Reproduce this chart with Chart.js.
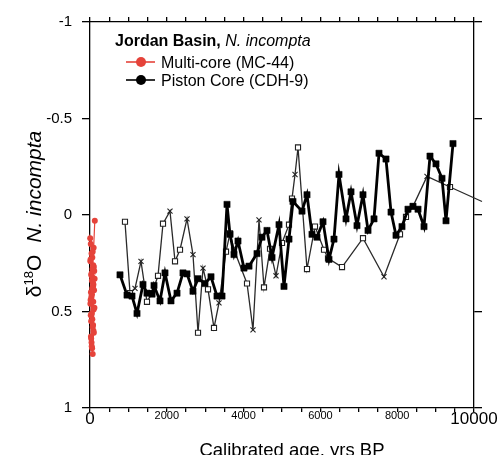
<!DOCTYPE html>
<html><head><meta charset="utf-8">
<script src="https://cdn.jsdelivr.net/npm/chart.js@4.4.1/dist/chart.umd.min.js"></script>
<style>html,body{margin:0;padding:0;background:#fff;}</style>
</head><body><canvas id="c" width="502" height="455"></canvas>
<script>
const xTickValues = [0, 2000, 4000, 6000, 8000, 10000];
const xTickLabels = ['0', '2000', '4000', '6000', '8000', '10000'];
const xMinorStep = 500;
const yTickValues = [-1, -0.5, 0, 0.5, 1];
const yTickLabels = ['-1', '-0.5', '0', '0.5', '1'];

// Multi-core (MC-44)
const multiAge = [125,95,5,60,20,85,40,110,10,70,30,100,50,15,80,45,120,25,65,90,35,55,105,10,75,40,95,60,20,85,50,30,115,70,15,45,90,60,25,80,40,100,55,30,70,45];
const multiD18O = [0.03,0.17,0.12,0.22,0.15,0.26,0.20,0.29,0.24,0.19,0.31,0.27,0.34,0.23,0.37,0.30,0.33,0.40,0.28,0.36,0.43,0.32,0.39,0.46,0.35,0.42,0.49,0.38,0.52,0.45,0.41,0.55,0.48,0.58,0.44,0.51,0.60,0.54,0.63,0.57,0.66,0.61,0.69,0.64,0.72,0.68];

// Piston core (CDH-9), main record
const pistonAge = [781,964,1094,1224,1380,1484,1615,1667,1823,1953,2109,2266,2422,2526,2682,2813,2995,3151,3307,3438,3568,3646,3750,3854,4010,4141,4349,4479,4609,4740,4922,5052,5182,5286,5521,5651,5781,5911,6068,6224,6354,6484,6667,6797,6953,7109,7240,7396,7526,7708,7839,7969,8125,8281,8411,8542,8698,8854,9010,9167,9271,9453];
const pistonD18O = [0.31,0.415,0.42,0.51,0.36,0.405,0.41,0.365,0.445,0.30,0.445,0.405,0.30,0.305,0.395,0.33,0.355,0.32,0.42,0.42,-0.055,0.10,0.205,0.135,0.275,0.265,0.20,0.115,0.08,0.22,0.05,0.37,0.125,-0.07,-0.02,-0.105,0.10,0.115,0.035,0.23,0.125,-0.21,0.02,-0.12,0.055,-0.105,0.08,0.02,-0.32,-0.29,-0.015,0.105,0.06,-0.03,-0.045,-0.03,0.06,-0.305,-0.265,-0.19,0.03,-0.37];

// Piston core, replicate record (open squares / crosses)
const repAge = [911,1042,1172,1328,1484,1615,1771,1901,2083,2214,2344,2526,2682,2813,2943,3073,3229,3359,3542,3646,3750,4089,4245,4401,4531,4688,4844,5000,5182,5260,5339,5417,5651,5859,6094,6198,6563,7109,7656,8073,8229,8411,8776,9375,10208];
const repD18O = [0.035,0.405,0.38,0.24,0.45,0.405,0.315,0.045,-0.02,0.24,0.18,0.02,0.205,0.61,0.275,0.385,0.585,0.455,0.19,0.095,0.18,0.355,0.595,0.025,0.375,0.175,0.315,0.145,0.05,-0.085,-0.21,-0.35,0.28,0.06,0.18,0.225,0.27,0.12,0.32,0.10,0.01,-0.045,-0.2,-0.145,-0.07];
const repMarker = ['s','s','x','x','s','s','s','s','x','s','s','x','x','s','x','s','s','x','s','s','s','s','x','x','s','s','x','s','s','s','x','s','s','s','s','s','s','s','x','s','s','s','x','s','n'];

const FONT = '"Liberation Sans", Arial, Helvetica, sans-serif';
const RED = '#e5433a';

const toPts = (xs, ys) => xs.map((x, i) => ({x, y: ys[i]}));
const xMin = xTickValues[0], xMax = xTickValues[xTickValues.length - 1];
const xAllTicks = [];
for (let v = xMin; v <= xMax; v += xMinorStep) xAllTicks.push({value: v});
const yAllTicks = yTickValues.map(v => ({value: v}));

const axisGrid = (len) => ({display: true, drawOnChartArea: false, drawTicks: true, tickLength: len, color: '#000', lineWidth: 1.3});
const axisBorder = {display: true, color: '#000', width: 1.3};

const textPlugin = {
  id: 'texts',
  afterDraw(chart) {
    const ctx = chart.ctx;
    ctx.save();
    ctx.fillStyle = '#000';
    ctx.textBaseline = 'alphabetic';
    ctx.font = 'bold 16px ' + FONT;
    ctx.fillText('Jordan Basin, ', 115, 46);
    const w = ctx.measureText('Jordan Basin, ').width;
    ctx.font = 'italic 16px ' + FONT;
    ctx.fillText('N. incompta', 115 + w, 46);
    const entries = [
      {label: 'Multi-core (MC-44)', color: RED, y: 62},
      {label: 'Piston Core (CDH-9)', color: '#000', y: 80}
    ];
    entries.forEach(e => {
      ctx.strokeStyle = e.color; ctx.fillStyle = e.color; ctx.lineWidth = 1.6;
      ctx.beginPath(); ctx.moveTo(126, e.y); ctx.lineTo(155, e.y); ctx.stroke();
      ctx.beginPath(); ctx.arc(141, e.y, 5, 0, Math.PI * 2); ctx.fill();
      ctx.fillStyle = '#000';
      ctx.font = '16px ' + FONT;
      ctx.fillText(e.label, 161, e.y + 6);
    });
    ctx.font = '18.5px ' + FONT;
    ctx.textAlign = 'center';
    ctx.fillText('Calibrated age, yrs BP', 292, 456);
    ctx.textAlign = 'left';
    ctx.translate(41, 214);
    ctx.rotate(-Math.PI / 2);
    const big = '21px ' + FONT, small = '13px ' + FONT, ital = 'italic 21px ' + FONT;
    ctx.font = big; const w1 = ctx.measureText('δ').width;
    ctx.font = small; const w2 = ctx.measureText('18').width;
    ctx.font = big; const w3 = ctx.measureText('O').width;
    const gap = 12;
    ctx.font = ital; const w4 = ctx.measureText('N. incompta').width;
    let x = -(w1 + w2 + w3 + gap + w4) / 2;
    ctx.font = big; ctx.fillText('δ', x, 0); x += w1;
    ctx.font = small; ctx.fillText('18', x, -8); x += w2;
    ctx.font = big; ctx.fillText('O', x, 0); x += w3 + gap;
    ctx.font = ital; ctx.fillText('N. incompta', x, 0);
    ctx.restore();
  }
};

new Chart(document.getElementById('c'), {
  type: 'scatter',
  data: {
    datasets: [
      {
        label: 'Multi-core (MC-44)',
        data: toPts(multiAge, multiD18O),
        showLine: true, clip: false,
        borderColor: RED, borderWidth: 1.2,
        pointRadius: 3, pointBackgroundColor: RED, pointBorderColor: RED, pointBorderWidth: 0
      },
      {
        label: 'Piston Core (CDH-9)',
        data: toPts(pistonAge, pistonD18O),
        showLine: true,
        borderColor: '#000', borderWidth: 2.8,
        pointStyle: 'rect', pointRadius: 4.4,
        pointBackgroundColor: '#000', pointBorderColor: '#000', pointBorderWidth: 0.5
      },
      {
        label: 'Piston Core replicate',
        data: toPts(repAge, repD18O),
        showLine: true, clip: false,
        borderColor: '#2a2a2a', borderWidth: 1.3,
        pointStyle: repMarker.map(m => m === 'x' ? 'crossRot' : 'rect'),
        pointRadius: repMarker.map(m => m === 'n' ? 0 : 3.6),
        pointBackgroundColor: '#fff', pointBorderColor: '#222', pointBorderWidth: 1.1
      }
    ]
  },
  options: {
    responsive: false, animation: false, devicePixelRatio: 1,
    layout: {padding: 0},
    plugins: {legend: {display: false}, tooltip: {enabled: false}},
    elements: {line: {tension: 0}},
    scales: {
      x: {
        type: 'linear', position: 'bottom', min: xMin, max: xMax,
        afterFit: s => { s.height = 47; },
        afterBuildTicks: s => { s.ticks = xAllTicks.map(t => ({value: t.value})); },
        grid: axisGrid(4), border: axisBorder,
        ticks: {
          autoSkip: false, maxRotation: 0, padding: -3, color: '#000',
          callback: (v) => { const i = xTickValues.indexOf(v); return i >= 0 ? xTickLabels[i] : ''; },
          font: (c) => ({family: FONT, size: (c.tick && (c.tick.value === xMin || c.tick.value === xMax)) ? 17 : 11})
        }
      },
      xTop: {
        type: 'linear', position: 'top', min: xMin, max: xMax,
        afterFit: s => { s.height = 22; },
        afterBuildTicks: s => { s.ticks = xAllTicks.map(t => ({value: t.value})); },
        grid: axisGrid(5), border: axisBorder,
        ticks: {display: false}
      },
      y: {
        type: 'linear', position: 'left', reverse: true,
        min: yTickValues[0], max: yTickValues[yTickValues.length - 1],
        afterFit: s => { s.width = 90; },
        afterBuildTicks: s => { s.ticks = yAllTicks.map(t => ({value: t.value})); },
        grid: axisGrid(8), border: axisBorder,
        ticks: {
          padding: 10, color: '#000',
          callback: (v) => yTickLabels[yTickValues.indexOf(v)],
          font: {family: FONT, size: 15}
        }
      },
      yRight: {
        type: 'linear', position: 'right', reverse: true,
        min: yTickValues[0], max: yTickValues[yTickValues.length - 1],
        afterFit: s => { s.width = 28; },
        afterBuildTicks: s => { s.ticks = yAllTicks.map(t => ({value: t.value})); },
        grid: axisGrid(8), border: axisBorder,
        ticks: {display: false}
      }
    }
  },
  plugins: [textPlugin]
});
</script></body></html>
